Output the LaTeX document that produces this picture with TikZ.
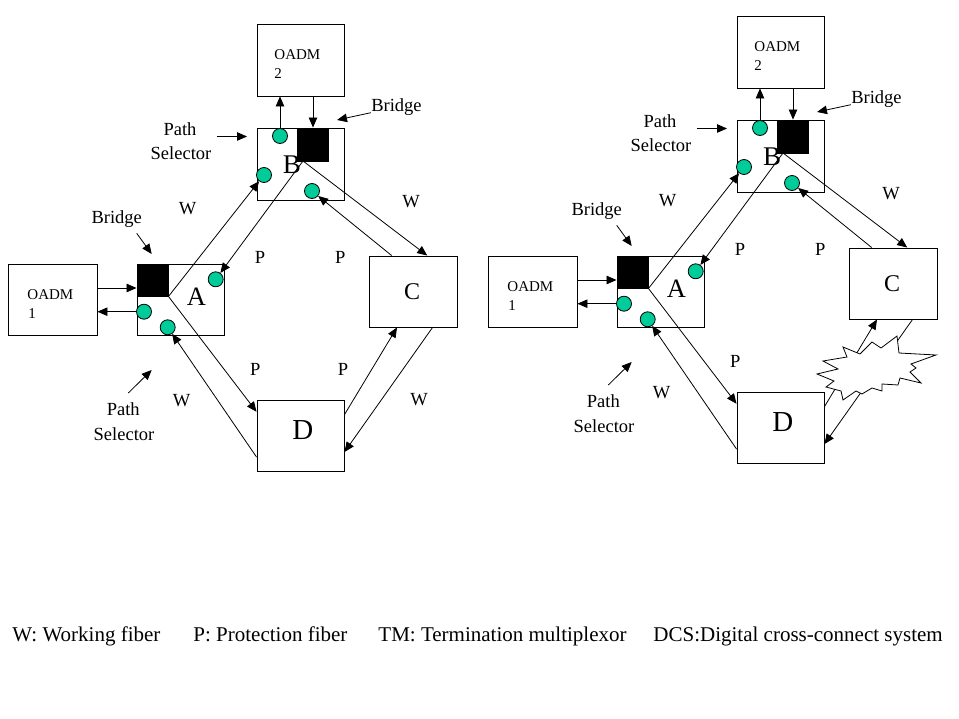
\documentclass[tikz,border=0pt]{standalone}
\usepackage{fontspec}
\setmainfont{Liberation Serif}
\usetikzlibrary{arrows.meta,calc}
\definecolor{dotgreen}{RGB}{0,204,153}
\begin{document}
\begin{tikzpicture}[x=1pt,y=-1pt,
  line width=0.9pt,
  box/.style={draw,rectangle,inner sep=0pt,minimum width=87pt,minimum height=71pt},
  sq/.style={fill=black,draw=black,rectangle,inner sep=0pt,minimum width=31pt,minimum height=32pt},
  dot/.style={circle,fill=dotgreen,draw=black,line width=0.8pt,minimum size=15pt,inner sep=0pt},
  arr/.style={-{Triangle[length=10pt,width=8.5pt]},line width=0.8pt},
  lbl/.style={font=\fontsize{18.5}{20}\selectfont,inner sep=0pt,anchor=base},
  big/.style={inner sep=0pt},
  small/.style={font=\fontsize{15}{17}\selectfont,inner sep=0pt,anchor=base west},
  legend/.style={font=\fontsize{21}{24}\selectfont,inner sep=0pt,anchor=base west}]
\useasboundingbox (0,0) rectangle (959,719);
\fill[white] (0,0) rectangle (959,719);

\foreach \s/\dx/\dy in {L/0/0,R/480/-8}{
\begin{scope}[shift={(\dx,\dy)}]
  % boxes
  \node[box,minimum height=72pt] (O2\s) at (300.5,60) {};
  \node[small] (o2a\s) at (274,60) {OADM};
  \node[small] (o2b\s) at (274,79) {2};
  \node[box,minimum height=72pt] (B\s) at (300.5,164) {};
  \node[big,font=\fontsize{27}{30}\selectfont] (Bl\s) at (292,165) {B};
  \node[sq,minimum height=33pt] (Bsq\s) at (313,144.5) {};
  \node[dot] (B1\s) at (280,136) {};
  \node[dot] (B2\s) at (264,175) {};
  \node[dot] (B3\s) at (312,191) {};

  \node[box,minimum width=89pt] (O1\s) at (52.5,299.5) {};
  \node[small] (o1a\s) at (27,300) {OADM};
  \node[small] (o1b\s) at (28,319) {1};

  \node[box] (A\s) at (180.5,299.5) {};
  \node[big,font=\fontsize{26.5}{30}\selectfont] (Al\s) at (196.5,297) {A};
  \node[sq] (Asq\s) at (152.5,280) {};
  \node[dot] (A1\s) at (215.7,279.3) {};
  \node[dot] (A2\s) at (144,311.7) {};
  \node[dot] (A3\s) at (167.7,327.3) {};

  \node[box,minimum width=88pt] (C\s) at (413,291.5) {};
  \node[big,font=\fontsize{24}{28}\selectfont] (Cl\s) at (412,292) {C};
  \node[box] (D\s) at (300.5,435.5) {};
  \node[big,font=\fontsize{29}{32}\selectfont] (Dl\s) at (302.8,429.7) {D};

  % ring connectors
  \coordinate (Bc\s) at (303,161);
  \draw[arr] (Asq\s.south east) -- (B2\s);
  \draw[arr] (Bc\s) -- (A1\s);
  \draw[arr] (Bc\s) -- ($(C\s.north west)!0.66!(C\s.north east)$);
  \draw[arr] ($(C\s.north west)!0.26!(C\s.north east)$) -- (B3\s);
  \draw[arr] (Asq\s.south east) -- ($(D\s.north west)!0.17!(D\s.south west)$);
  \draw[arr] ($(D\s.north west)!0.8!(D\s.south west)$) -- (A3\s);
  \draw[arr] ($(D\s.north east)!0.21!(D\s.south east)$) -- ($(C\s.south west)!0.32!(C\s.south east)$);
  \draw[arr] ($(C\s.south west)!0.72!(C\s.south east)$) -- ($(D\s.north east)!0.73!(D\s.south east)$);

  % add/drop connectors
  \draw[arr] (B1\s.north) -- (B1\s.north |- O2\s.south);
  \draw[arr] (Bsq\s.north |- O2\s.south) -- (Bsq\s.north);
  \draw[arr] (O1\s.east |- 0,288) -- (Asq\s.west |- 0,288);
  \draw[arr] (A2\s.west) -- (O1\s.east |- A2\s.west);

  % annotations
  \node[lbl] (ps1a\s) at (180,136) {Path};
  \node[lbl] (ps1b\s) at (181,160) {Selector};
  \coordinate (ps1t\s) at (247,136.5);
  \draw[arr] ([shift={(20,0.5)}]ps1a\s.base east) -- (ps1t\s);

  \node[lbl] (br1\s) at (396.5,111.7) {Bridge};
  \coordinate (br1t\s) at (337,120);
  \draw[arr] ([shift={(0,1)}]br1\s.base west) -- (br1t\s);

  \node[lbl] (br2\s) at (116.7,223.3) {Bridge};
  \coordinate (br2t\s) at (151.7,254);
  \draw[arr] ([shift={(20,10)}]br2\s.base) -- (br2t\s);

  \node[lbl] (ps2a\s) at (123.3,415) {Path};
  \node[lbl] (ps2b\s) at (124,440) {Selector};
  \coordinate (ps2t\s) at (151.7,370);
  \draw[arr] ([shift={(5,-22)}]ps2a\s.base) -- (ps2t\s);

  \node[lbl] (w1\s) at (187.5,215) {W};
  \node[lbl] (w2\s) at (181.7,406.7) {W};
  \node[lbl] (w3\s) at (411,207.7) {W};
  \node[lbl] (p1\s) at (260,264) {P};
  \node[lbl] (p2\s) at (340.3,264) {P};
  \node[lbl] (p3\s) at (255.3,376) {P};
\end{scope}
}

% left-only labels on the C-D span
\node[lbl] (p4L) at (343,376) {P};
\node[lbl] (w4L) at (419,405.7) {W};

% fibre cut on the right ring
\draw[line width=0.8pt,fill=white] (843,347) -- (860,354) -- (872,342) -- (881,348) -- (897,336)
  -- (899,353) -- (936,355) -- (911,364) -- (916,368) -- (910,372) -- (921,383)
  -- (900,378) -- (898,385) -- (882,384) -- (882,391) -- (872,388) -- (862,394)
  -- (856,391) -- (843,400) -- (841,391) -- (826,387) -- (834,381) -- (817,374)
  -- (838,369) -- (823,361) -- (847,357) -- cycle;

% legend
\node[legend] (lgW) at (12,641) {W: Working fiber};
\node[legend] (lgP) at (193,641) {P: Protection fiber};
\node[legend] (lgT) at (378,641) {TM: Termination multiplexor};
\node[legend] (lgD) at (653,641) {DCS:Digital cross-connect system};
\end{tikzpicture}
\end{document}
